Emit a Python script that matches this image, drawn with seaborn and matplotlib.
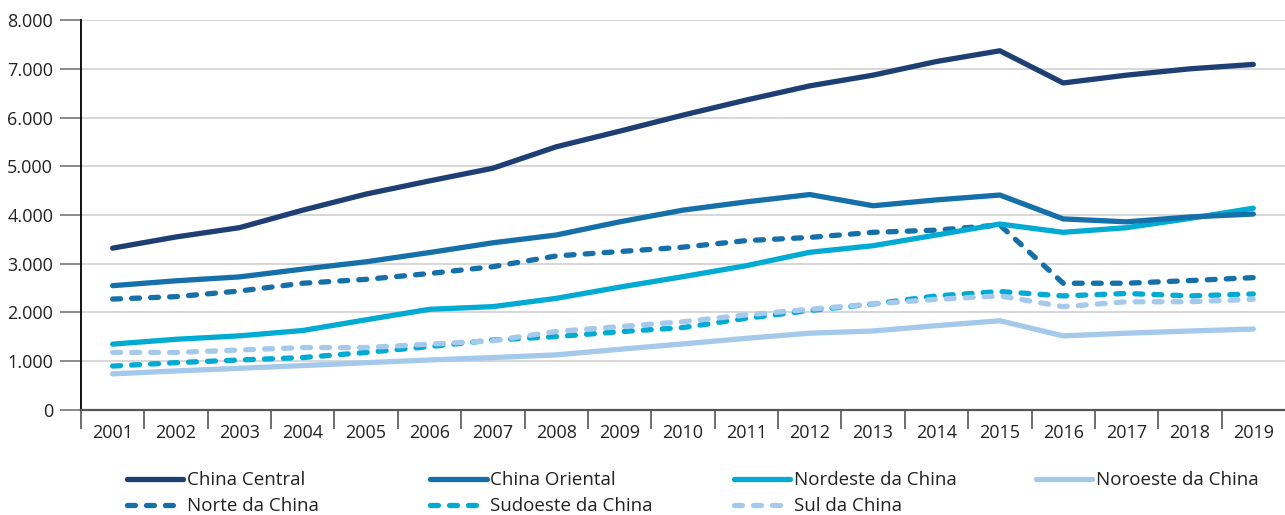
import matplotlib
matplotlib.use('Agg')
import matplotlib.pyplot as plt
import seaborn as sns
import pandas as pd

years = [str(y) for y in range(2001, 2020)]

china_central = [3320, 3550, 3740, 4100, 4430, 4700, 4960, 5400, 5720, 6050,
                 6360, 6650, 6870, 7150, 7370, 6710, 6870, 7000, 7090]
china_oriental = [2550, 2650, 2730, 2890, 3040, 3230, 3430, 3590, 3860, 4100,
                  4270, 4420, 4190, 4310, 4410, 3920, 3860, 3960, 4020]
nordeste = [1350, 1450, 1520, 1630, 1850, 2065, 2120, 2290, 2520, 2735,
            2960, 3235, 3370, 3590, 3815, 3645, 3740, 3930, 4140]
noroeste = [740, 800, 855, 910, 970, 1025, 1075, 1130, 1245, 1355,
            1470, 1575, 1620, 1730, 1830, 1520, 1575, 1620, 1660]
norte = [2275, 2325, 2440, 2600, 2680, 2800, 2940, 3160, 3250, 3340,
         3475, 3540, 3645, 3690, 3795, 2600, 2600, 2655, 2715]
sudoeste = [900, 970, 1025, 1075, 1180, 1300, 1435, 1505, 1605, 1690,
            1880, 2040, 2175, 2340, 2430, 2340, 2390, 2340, 2380]
sul = [1180, 1180, 1230, 1280, 1280, 1350, 1420, 1610, 1710, 1810,
       1950, 2065, 2175, 2270, 2340, 2120, 2220, 2220, 2270]

series = {
    'China Central': china_central,
    'China Oriental': china_oriental,
    'Nordeste da China': nordeste,
    'Noroeste da China': noroeste,
    'Norte da China': norte,
    'Sudoeste da China': sudoeste,
    'Sul da China': sul,
}

navy = '#1d3f73'
blue = '#1570aa'
cyan = '#00abd3'
light = '#a5c9eb'
palette = {'China Central': navy, 'China Oriental': blue, 'Nordeste da China': cyan,
           'Noroeste da China': light, 'Norte da China': blue,
           'Sudoeste da China': cyan, 'Sul da China': light}
dash = (1.5, 2.1)
dashes = {'China Central': '', 'China Oriental': '', 'Nordeste da China': '',
          'Noroeste da China': '', 'Norte da China': dash,
          'Sudoeste da China': dash, 'Sul da China': dash}

rows = []
for name, vals in series.items():
    for i, v in enumerate(vals):
        rows.append({'pos': i, 'Região': name, 'valor': v})
df = pd.DataFrame(rows)

sns.set_style('white')
plt.rcParams['font.family'] = ['Open Sans', 'DejaVu Sans']
plt.rcParams['font.size'] = 13

fig = plt.figure(figsize=(12.85, 5.15), dpi=100)
ax = fig.add_axes([0.063, 0.204, 0.937, 0.757])

# solid lines drawn last so they sit on top
order = ['Norte da China', 'Sudoeste da China', 'Sul da China',
         'Noroeste da China', 'Nordeste da China', 'China Oriental', 'China Central']
sns.lineplot(data=df, x='pos', y='valor', hue='Região', style='Região',
             hue_order=order, style_order=order, palette=palette, dashes=dashes,
             linewidth=3.8, legend=False, ax=ax)
lines = {}
for ln, name in zip(ax.get_lines(), order):
    ln.set_solid_capstyle('round')
    ln.set_dash_capstyle('round')
    ln.set_solid_joinstyle('round')
    lines[name] = ln

ax.set_xlim(-0.5, 18.5)
ax.set_ylim(0, 8000)
ax.set_yticks(range(0, 8001, 1000))
ax.set_yticklabels(['0'] + [f'{k}.000' for k in range(1, 9)])
ax.set_xticks(range(19))
ax.set_xticklabels(years)
ax.set_xticks([i - 0.5 for i in range(19)], minor=True)
ax.tick_params(axis='x', which='major', bottom=True, length=0, pad=10, labelsize=13,
               colors='#222222')
ax.tick_params(axis='x', which='minor', bottom=True, length=14, width=1.2,
               color='#555555', direction='out')
ax.tick_params(axis='y', left=True, length=15, width=1.2, color='#777777', pad=5,
               labelsize=13, labelcolor='#222222')
ax.yaxis.grid(True, color='#d4d4d4', linewidth=1.3)
ax.set_axisbelow(True)
ax.set_xlabel('')
ax.set_ylabel('')
for s in ['top', 'right']:
    ax.spines[s].set_visible(False)
ax.spines['left'].set_color('#111111')
ax.spines['left'].set_linewidth(1.4)
ax.spines['bottom'].set_color('#555555')
ax.spines['bottom'].set_linewidth(1.6)

legend_cols = [['China Central', 'Norte da China'],
               ['China Oriental', 'Sudoeste da China'],
               ['Nordeste da China', 'Sul da China'],
               ['Noroeste da China']]
col_x = [0.099, 0.335, 0.571, 0.806]
for cx, names in zip(col_x, legend_cols):
    leg = fig.legend([lines[n] for n in names], names, loc='upper left',
                     bbox_to_anchor=(cx, 0.085), frameon=False, handlelength=3.0,
                     handletextpad=0.2, labelspacing=0.42, borderaxespad=0,
                     borderpad=0, fontsize=13.5)
    for t in leg.get_texts():
        t.set_color('#222222')

fig.savefig('out.png', dpi=100)
